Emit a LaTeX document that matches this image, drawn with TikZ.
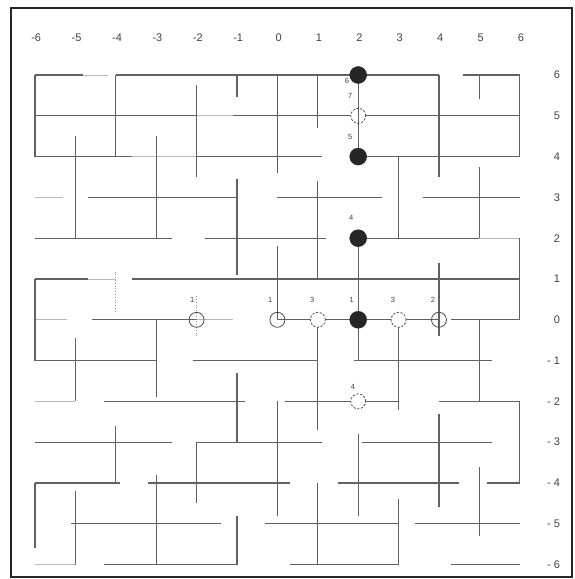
\documentclass[tikz,border=0pt]{standalone}
\usepackage{fontspec}
\setmainfont{Liberation Sans}
\begin{document}
\begin{tikzpicture}[x=40.4pt,y=40.8pt,
  ln/.style={draw=black!62,line width=1.1pt},
  fl/.style={draw=black!28,line width=0.8pt},
  dl/.style={draw=black!45,line width=0.8pt,dotted},
  stone/.style={circle,fill=black!85,draw=black!85,minimum size=17pt,inner sep=0pt},
  hollow/.style={circle,draw=black!70,line width=0.8pt,minimum size=15pt,inner sep=0pt},
  dhollow/.style={hollow,fill=white,dash pattern=on 2.2pt off 1.6pt},
  axl/.style={font=\fontsize{11}{11}\selectfont,text=black!75,inner sep=0pt},
  mv/.style={font=\fontsize{7.5}{7.5}\selectfont,text=black!75,inner sep=0pt}]
\useasboundingbox (-6.866,-6.353) rectangle (7.342,7.838);
\draw[black!85,line width=1.4pt] (-6.594,-6.304) rectangle (7.292,7.642);
% faint horizontal segments
\foreach \a/\b/\r in {-4.8/-4.2/6,-2/-1.1/5,-3.6/-2/4,-6/-5.3/3,5/6/2,-4.7/-4/1,
  -6/-5.2/0,-2/-1.1/0,-6/-5/-2,-6/-5/-6}
  \draw[fl] (\a,\r) -- (\b,\r);
% dark horizontal segments
\foreach \a/\b/\r in {-6/-4.8/6,-4/4/6,4.6/6/6,
  -6/-2/5,-1.1/1.8/5,2.2/6/5,
  -6/-3.6/4,-2/1.1/4,2/6/4,
  -4.7/-1/3,0/2.6/3,3.6/6/3,
  -6/-2.6/2,-1.8/1.2/2,2/5/2,
  -6/-4.7/1,-3.6/6/1,
  -4.6/-2/0,0/4/0,4.3/6/0,
  -6/-3/-1,-2.1/1/-1,1.9/5.3/-1,
  -4.3/-0.8/-2,0.2/3/-2,4/6/-2,
  -6/-2.6/-3,-2/1.1/-3,2.1/5.3/-3,
  -6/-3.9/-4,-3.2/0.3/-4,1.5/4.5/-4,5.2/6/-4,
  -5.1/-1.4/-5,-0.3/3/-5,3.4/6/-5,
  -4.3/-1/-6,0.3/3/-6,4.3/6/-6}
  \draw[ln] (\a,\r) -- (\b,\r);
% dark vertical segments
\foreach \c/\p/\q in {-6/4/6,-6/-1/1,-6/-5.6/-4,
  -5/2/4.5,-5/-2/-0.45,-5/-6/-4.2,
  -4/4/6,-4/-4/-2.6,
  -3/2/4.5,-3/-1.9/0,-3/-6/-3.8,
  -2/3.5/5.75,-2/-4.5/-3,
  -1/5.45/6,-1/1.1/3.45,-1/-3/-1.3,-1/-6/-4.8,
  0/3.6/6,0/0/1.8,0/-4.8/-2,
  1/4.7/6,1/1/3.4,1/-2.7/0,1/-6/-4,
  2/4/6,2/-1/2,2/-4.8/-2.8,
  3/2/4,3/-2.2/0,3/-6/-4.4,
  4/3.5/6,4/-0.4/1.4,4/-4.6/-2.3,
  5/5.4/6,5/2/3.75,5/-2/0,5/-5.3/-3.6,
  6/4/6,6/0/2,6/-4/-2}
  \draw[ln] (\c,\p) -- (\c,\q);
% dotted segments
\draw[dl] (-4,0.2) -- (-4,1.2);
\draw[dl] (-2,-0.4) -- (-2,0.6);
% stones
\node[stone] (s6) at (2,6) {};
\node[stone] (s4) at (2,4) {};
\node[stone] (s2) at (2,2) {};
\node[stone] (s0) at (2,0) {};
\node[hollow,dash pattern=on 2.2pt off 1.6pt] (h5) at (2,5) {};
\node[hollow] (hm2) at (-2,0) {};
\node[hollow] (h0) at (0,0) {};
\node[dhollow] (h1) at (1,0) {};
\node[dhollow] (h3) at (3,0) {};
\node[hollow] (h4) at (4,0) {};
\node[dhollow] (hb) at (2,-2) {};
% move labels
\node[mv] (l6) at (1.72,5.85) {6};
\node[mv] (l7) at (1.80,5.49) {7};
\node[mv] (l5) at (1.80,4.48) {5};
\node[mv] (l4) at (1.83,2.50) {4};
\node[mv] (la) at (-2.11,0.49) {1};
\node[mv] (lb) at (-0.18,0.49) {1};
\node[mv] (lc) at (0.86,0.49) {3};
\node[mv] (ld) at (1.84,0.49) {1};
\node[mv] (le) at (2.86,0.49) {3};
\node[mv] (lf) at (3.85,0.49) {2};
\node[mv] (lg) at (1.87,-1.64) {4};
% column labels
\foreach \c/\t in {-6/-6,-5/-5,-4/-4,-3/-3,-2/-2,-1/-1,0/0,1/1,2/2,3/3,4/4,5/5,6/6}
  \node[axl] (col\c) at (\c+0.03,6.91) {\t};
% row labels
\foreach \r/\t in {6/6,5/5,4/4,3/3,2/2,1/1,0/0,-1/- 1,-2/- 2,-3/- 3,-4/- 4,-5/- 5,-6/- 6}
  \node[axl,anchor=east] (row\r) at (7.0,\r) {\t};
\end{tikzpicture}
\end{document}
